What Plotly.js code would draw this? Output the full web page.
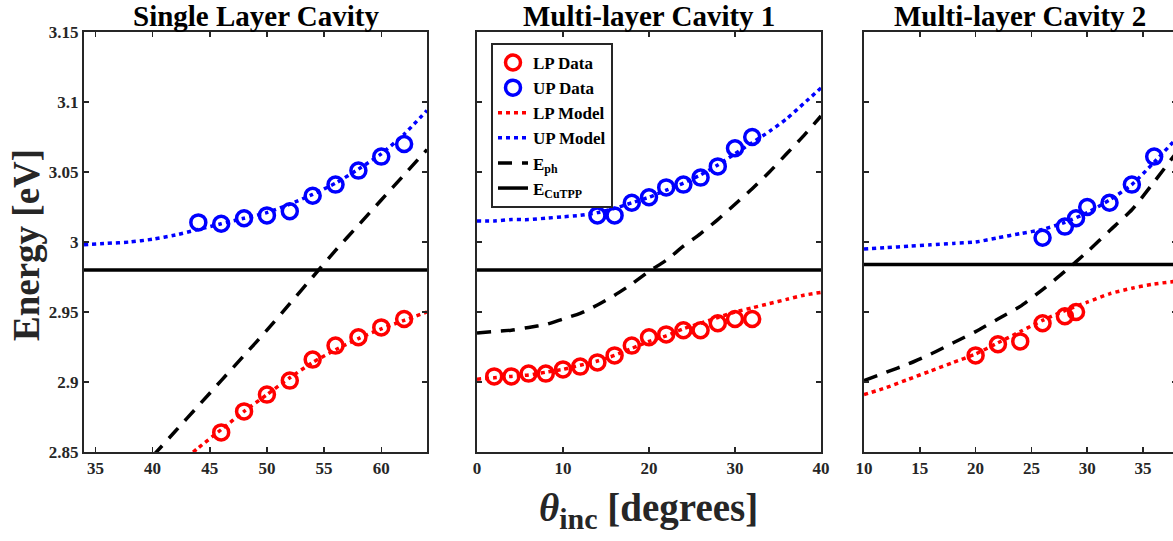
<!DOCTYPE html>
<html>
<head>
<meta charset="utf-8">
<script src="https://cdn.plot.ly/plotly-3.0.1.min.js"></script>
<style>
html,body{margin:0;padding:0;overflow:hidden;background:#fff;}
#chart{width:1180px;height:541px;}
</style>
</head>
<body>
<div id="chart"></div>
<script>
// ---------- Data ----------
const panelTitles = ["Single Layer Cavity", "Multi-layer Cavity 1", "Multi-layer Cavity 2"];
const seriesNames = ["LP Data", "UP Data", "LP Model", "UP Model", "E<sub>ph</sub>", "E<sub>CuTPP</sub>"];

// Panel 1: Single Layer Cavity
const p1_lp_x = [46, 48, 50, 52, 54, 56, 58, 60, 62];
const p1_lp_y = [2.864, 2.879, 2.891, 2.901, 2.916, 2.926, 2.932, 2.939, 2.945];
const p1_up_x = [44, 46, 48, 50, 52, 54, 56, 58, 60, 62];
const p1_up_y = [3.014, 3.013, 3.017, 3.019, 3.022, 3.033, 3.041, 3.051, 3.061, 3.070];
const p1_lpm_x = [43, 44, 46, 48, 50, 52, 54, 56, 58, 60, 62, 64];
const p1_lpm_y = [2.846, 2.853, 2.866, 2.879, 2.891, 2.903, 2.914, 2.923, 2.931, 2.938, 2.944, 2.950];
const p1_upm_x = [34, 36, 38, 40, 42, 44, 46, 48, 50, 52, 54, 56, 58, 60, 62, 64];
const p1_upm_y = [2.998, 2.999, 3.000, 3.002, 3.005, 3.009, 3.013, 3.017, 3.021, 3.027, 3.034, 3.042, 3.052, 3.063, 3.077, 3.094];
const p1_eph_x = [40, 42, 44, 46, 48, 50, 52, 54, 56, 58, 60, 62, 64];
const p1_eph_y = [2.847, 2.865, 2.883, 2.901, 2.919, 2.937, 2.956, 2.975, 2.994, 3.012, 3.030, 3.048, 3.066];
const p1_ecu_x = [34, 64];
const p1_ecu_y = [2.98, 2.98];

// Panel 2: Multi-layer Cavity 1
const p2_lp_x = [2, 4, 6, 8, 10, 12, 14, 16, 18, 20, 22, 24, 26, 28, 30, 32];
const p2_lp_y = [2.904, 2.904, 2.906, 2.906, 2.909, 2.911, 2.914, 2.919, 2.926, 2.932, 2.934, 2.937, 2.937, 2.942, 2.945, 2.945];
const p2_up_x = [14, 16, 18, 20, 22, 24, 26, 28, 30, 32];
const p2_up_y = [3.019, 3.019, 3.028, 3.032, 3.039, 3.041, 3.046, 3.054, 3.067, 3.075];
const p2_model_x = [0, 2, 4, 6, 8, 10, 12, 14, 16, 18, 20, 22, 24, 26, 28, 30, 32, 34, 36, 38, 40];
const p2_lpm_y = [2.902, 2.903, 2.904, 2.905, 2.907, 2.909, 2.912, 2.915, 2.919, 2.924, 2.929, 2.933, 2.938, 2.942, 2.946, 2.950, 2.953, 2.956, 2.959, 2.962, 2.964];
const p2_upm_y = [3.015, 3.015, 3.016, 3.016, 3.017, 3.018, 3.019, 3.021, 3.024, 3.028, 3.032, 3.037, 3.042, 3.048, 3.055, 3.063, 3.071, 3.079, 3.088, 3.099, 3.110];
const p2_eph_y = [2.935, 2.936, 2.937, 2.939, 2.941, 2.945, 2.949, 2.955, 2.962, 2.970, 2.979, 2.987, 2.997, 3.006, 3.016, 3.027, 3.038, 3.050, 3.063, 3.076, 3.090];
const p2_ecu_x = [0, 40];
const p2_ecu_y = [2.98, 2.98];

// Panel 3: Multi-layer Cavity 2
const p3_lp_x = [20, 22, 24, 26, 28, 29];
const p3_lp_y = [2.919, 2.927, 2.929, 2.942, 2.947, 2.950];
const p3_up_x = [26, 28, 29, 30, 32, 34, 36];
const p3_up_y = [3.003, 3.011, 3.017, 3.025, 3.028, 3.041, 3.061];
const p3_model_x = [10, 12, 14, 16, 18, 20, 22, 24, 26, 28, 30, 32, 34, 36, 38];
const p3_lpm_y = [2.891, 2.896, 2.902, 2.908, 2.914, 2.920, 2.928, 2.936, 2.944, 2.951, 2.957, 2.963, 2.967, 2.970, 2.972];
const p3_upm_y = [2.995, 2.996, 2.997, 2.998, 2.999, 3.000, 3.003, 3.006, 3.009, 3.014, 3.021, 3.030, 3.041, 3.057, 3.074];
const p3_eph_y = [2.901, 2.907, 2.913, 2.920, 2.928, 2.936, 2.945, 2.954, 2.966, 2.979, 2.993, 3.008, 3.023, 3.043, 3.064];
const p3_ecu_x = [10, 38];
const p3_ecu_y = [2.984, 2.984];

// Axis settings
const x1_range = [34, 64], x1_ticks = [35, 40, 45, 50, 55, 60];
const x2_range = [0, 40],  x2_ticks = [0, 10, 20, 30, 40];
const x3_range = [10, 38], x3_ticks = [10, 15, 20, 25, 30, 35];
const y_range = [2.85, 3.15];
const y_ticks = [2.85, 2.9, 2.95, 3, 3.05, 3.1, 3.15];
const y_ticktext = ["2.85", "2.9", "2.95", "3", "3.05", "3.1", "3.15"];

// ---------- Styles ----------
const RED = "#ff0000", BLUE = "#0000ff", BLACK = "#000000", AX = "#262626";
const FONT = "Liberation Serif, Times New Roman, serif";
const W = 1180, H = 541;

function panelTraces(xa, ya, d, show) {
  const common = {xaxis: xa, yaxis: ya, hoverinfo: "skip"};
  return [
    Object.assign({type: "scatter", mode: "markers", x: d.lpx, y: d.lpy, name: seriesNames[0], showlegend: show,
      marker: {symbol: "circle-open", size: 15, color: RED, line: {width: 3.5, color: RED}}}, common),
    Object.assign({type: "scatter", mode: "markers", x: d.upx, y: d.upy, name: seriesNames[1], showlegend: show,
      marker: {symbol: "circle-open", size: 15, color: BLUE, line: {width: 3.5, color: BLUE}}}, common),
    Object.assign({type: "scatter", mode: "lines", x: d.lpmx, y: d.lpmy, name: seriesNames[2], showlegend: show,
      line: {color: RED, width: 3.5, dash: "4px,4px", shape: "spline", smoothing: 0.6}}, common),
    Object.assign({type: "scatter", mode: "lines", x: d.upmx, y: d.upmy, name: seriesNames[3], showlegend: show,
      line: {color: BLUE, width: 3.5, dash: "4px,4px", shape: "spline", smoothing: 0.6}}, common),
    Object.assign({type: "scatter", mode: "lines", x: d.ephx, y: d.ephy, name: seriesNames[4], showlegend: show,
      line: {color: BLACK, width: 3.5, dash: "14px,10px", shape: "spline", smoothing: 0.6}}, common),
    Object.assign({type: "scatter", mode: "lines", x: d.ecux, y: d.ecuy, name: seriesNames[5], showlegend: show,
      line: {color: BLACK, width: 3.5}}, common)
  ];
}

const traces = [].concat(
  panelTraces("x", "y", {lpx: p1_lp_x, lpy: p1_lp_y, upx: p1_up_x, upy: p1_up_y,
    lpmx: p1_lpm_x, lpmy: p1_lpm_y, upmx: p1_upm_x, upmy: p1_upm_y,
    ephx: p1_eph_x, ephy: p1_eph_y, ecux: p1_ecu_x, ecuy: p1_ecu_y}, false),
  panelTraces("x2", "y2", {lpx: p2_lp_x, lpy: p2_lp_y, upx: p2_up_x, upy: p2_up_y,
    lpmx: p2_model_x, lpmy: p2_lpm_y, upmx: p2_model_x, upmy: p2_upm_y,
    ephx: p2_model_x, ephy: p2_eph_y, ecux: p2_ecu_x, ecuy: p2_ecu_y}, true),
  panelTraces("x3", "y3", {lpx: p3_lp_x, lpy: p3_lp_y, upx: p3_up_x, upy: p3_up_y,
    lpmx: p3_model_x, lpmy: p3_lpm_y, upmx: p3_model_x, upmy: p3_upm_y,
    ephx: p3_model_x, ephy: p3_eph_y, ecux: p3_ecu_x, ecuy: p3_ecu_y}, false)
);

const yDom = [1 - 452 / H, 1 - 32 / H];
const tickFont = {family: FONT, size: 17, color: AX, weight: "bold"};

function xAxis(dom, range, ticks, anchor) {
  return {domain: dom, range: range, tickvals: ticks, anchor: anchor, showgrid: false, zeroline: false,
    showline: true, linecolor: AX, linewidth: 2, mirror: "ticks", ticks: "inside", ticklen: 5,
    tickwidth: 1.5, tickcolor: AX, tickfont: tickFont, automargin: false, fixedrange: true};
}
function yAxis(range, anchor, labels) {
  return {domain: yDom, range: range, tickvals: y_ticks, ticktext: y_ticktext, anchor: anchor,
    showticklabels: labels, showgrid: false, zeroline: false,
    showline: true, linecolor: AX, linewidth: 2, mirror: "ticks", ticks: "inside", ticklen: 5,
    tickwidth: 1.5, tickcolor: AX, tickfont: tickFont, automargin: false, fixedrange: true};
}

const d1 = [84 / W, 427 / W], d2 = [477 / W, 821 / W], d3 = [864 / W, 1176.5 / W];

const titleFont = {family: FONT, size: 29, color: BLACK, weight: "bold"};
const layout = {
  width: W, height: H,
  margin: {l: 0, r: 0, t: 0, b: 0},
  paper_bgcolor: "#ffffff", plot_bgcolor: "#ffffff",
  showlegend: true,
  xaxis: xAxis(d1, x1_range, x1_ticks, "y"),
  yaxis: yAxis(y_range, "x", true),
  xaxis2: xAxis(d2, x2_range, x2_ticks, "y2"),
  yaxis2: yAxis(y_range, "x2", false),
  xaxis3: xAxis(d3, x3_range, x3_ticks, "y3"),
  yaxis3: yAxis(y_range, "x3", false),
  legend: {x: 491 / W, y: 1 - 43 / H, xanchor: "left", yanchor: "top", bgcolor: "#ffffff",
    bordercolor: AX, borderwidth: 2, font: {family: FONT, size: 17, color: BLACK, weight: "bold"},
    tracegroupgap: 0},
  annotations: [
    {text: panelTitles[0], xref: "paper", yref: "paper", x: (d1[0] + d1[1]) / 2, y: 1 - 16 / H,
      xanchor: "center", yanchor: "middle", showarrow: false, font: titleFont},
    {text: panelTitles[1], xref: "paper", yref: "paper", x: (d2[0] + d2[1]) / 2, y: 1 - 16 / H,
      xanchor: "center", yanchor: "middle", showarrow: false, font: titleFont},
    {text: panelTitles[2], xref: "paper", yref: "paper", x: (d3[0] + d3[1]) / 2, y: 1 - 16 / H,
      xanchor: "center", yanchor: "middle", showarrow: false, font: titleFont},
    {text: "Energy [eV]", xref: "paper", yref: "paper", x: 27 / W, y: 1 - 245 / H, textangle: -90,
      xanchor: "center", yanchor: "middle", showarrow: false,
      font: {family: FONT, size: 37, color: AX, weight: "bold"}},
    {text: "<i>θ</i><sub><span style='font-size:30px'>inc</span></sub> [degrees]", xref: "paper", yref: "paper",
      x: 648 / W, y: 1 - 510 / H,
      xanchor: "center", yanchor: "middle", showarrow: false,
      font: {family: FONT, size: 39, color: AX, weight: "bold"}}
  ]
};

Plotly.newPlot("chart", traces, layout, {staticPlot: true, displayModeBar: false});
</script>
</body>
</html>
